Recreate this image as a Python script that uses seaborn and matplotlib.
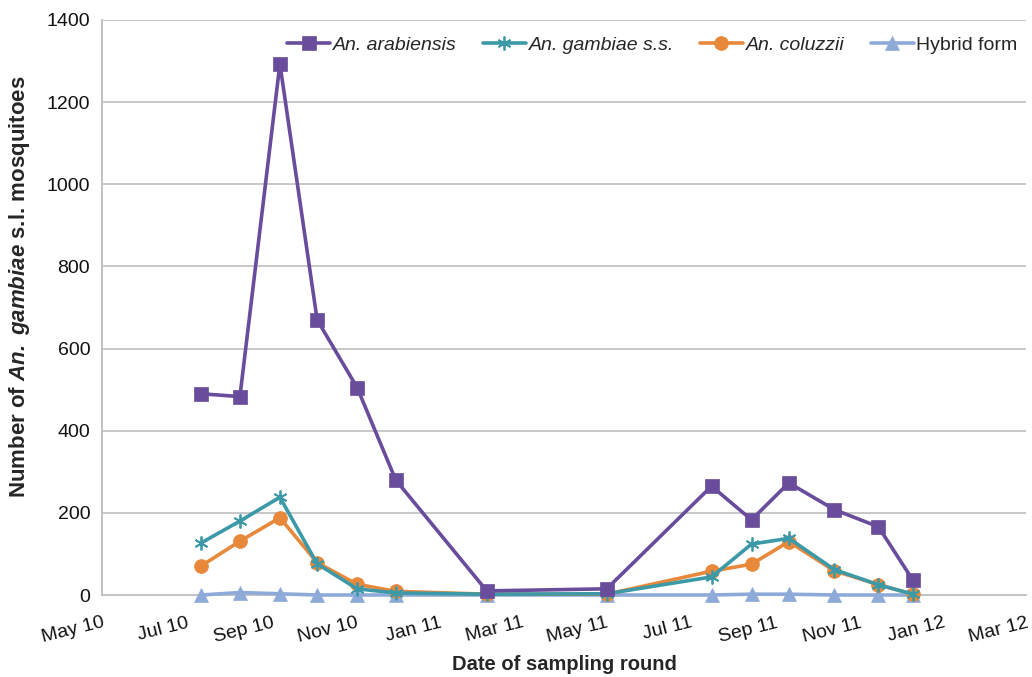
import matplotlib
matplotlib.use("Agg")
import matplotlib.pyplot as plt
import matplotlib.dates as mdates
import seaborn as sns
import pandas as pd
import numpy as np

dates = pd.to_datetime([
    "2010-07-12", "2010-08-09", "2010-09-07", "2010-10-04", "2010-11-02", "2010-11-30",
    "2011-02-04", "2011-05-02", "2011-07-17", "2011-08-15", "2011-09-11", "2011-10-14",
    "2011-11-15", "2011-12-10",
])
arabiensis = [490, 483, 1293, 670, 505, 280, 10, 15, 265, 183, 273, 208, 166, 36]
gambiae_ss = [127, 180, 238, 76, 15, 5, 2, 3, 44, 124, 138, 62, 25, 2]
coluzzii = [71, 131, 188, 79, 26, 9, 2, 2, 58, 75, 130, 59, 25, 2]
hybrid = [0, 6, 3, 0, 0, 0, 0, 0, 0, 2, 2, 0, 0, 0]

series_names = ["An. arabiensis", "An. gambiae s.s.", "An. coluzzii", "Hybrid form"]
series_values = [arabiensis, gambiae_ss, coluzzii, hybrid]
colors = ["#6a4c9c", "#3c9aa8", "#e8883a", "#8eaad8"]
markers = ["s", (6, 2, 0), "o", "^"]
msizes = [9.5, 10, 10, 10]

x_tick_months = [1, 3, 5, 7, 9, 11]

sns.set_theme(style="white")
plt.rcParams["font.family"] = ["Liberation Sans", "DejaVu Sans"]
plt.rcParams["mathtext.fontset"] = "custom"
plt.rcParams["mathtext.bfit"] = "Liberation Sans:bold:italic"
plt.rcParams["mathtext.it"] = "Liberation Sans:italic"
plt.rcParams["mathtext.bf"] = "Liberation Sans:bold"
plt.rcParams["mathtext.rm"] = "Liberation Sans"

fig = plt.figure(figsize=(10.32, 6.77), dpi=100)
ax = fig.add_axes([102 / 1032, 1 - 595 / 677, (1026 - 102) / 1032, (595 - 20) / 677])

df = pd.concat([
    pd.DataFrame({"date": dates, "count": vals, "species": name})
    for name, vals in zip(series_names, series_values)
])

for i, (name, col, mk, ms) in enumerate(zip(series_names, colors, markers, msizes)):
    sub = df[df["species"] == name]
    kw = dict(marker=mk, markersize=ms, color=col, linewidth=2.6, label=name,
              clip_on=False, zorder=5 - i)
    if mk == (6, 2, 0):
        kw.update(markeredgewidth=1.3, markeredgecolor=col)
    else:
        kw.update(markeredgewidth=0.5, markeredgecolor=col)
    sns.lineplot(data=sub, x="date", y="count", ax=ax, **kw)

ax.set_xlim(pd.Timestamp("2010-05-01"), pd.Timestamp("2012-03-01"))
ax.set_ylim(0, 1400)
ax.set_yticks(np.arange(0, 1401, 200))
ax.xaxis.set_major_locator(mdates.MonthLocator(bymonth=x_tick_months))
ax.xaxis.set_major_formatter(mdates.DateFormatter("%b %y"))

ax.yaxis.grid(True, color="#c4c4c4", linewidth=1.3)
ax.xaxis.grid(False)
ax.set_axisbelow(True)
for s in ["top", "right"]:
    ax.spines[s].set_visible(False)
for s in ["left", "bottom"]:
    ax.spines[s].set_color("#bdbdbd")
    ax.spines[s].set_linewidth(1.3)
    ax.spines[s].set_zorder(0.5)

ax.tick_params(axis="both", which="major", direction="out", length=5, width=1.2,
               color="#bdbdbd", labelsize=14, labelcolor="#111111")
ax.tick_params(axis="x", pad=9)
for lbl in ax.get_xticklabels():
    lbl.set_rotation(14)
    lbl.set_ha("right")
    lbl.set_rotation_mode("anchor")

ax.set_xlabel("Date of sampling round", fontsize=14.5, fontweight="bold", labelpad=6)
ax.set_ylabel(r"Number of $\mathbfit{An.\ gambiae}$ s.l. mosquitoes", fontsize=16,
              fontweight="bold")
ax.yaxis.set_label_coords(-0.076, (595 - 287) / 575)

leg = ax.legend(loc="center left", bbox_to_anchor=(0.192, 1 - 25 / 575), ncol=4, frameon=False,
                fontsize=14, handlelength=2.2, handletextpad=0.15, columnspacing=1.35,
                borderaxespad=0)
for t in leg.get_texts()[:3]:
    t.set_style("italic")

fig.savefig("out.png", dpi=100)
